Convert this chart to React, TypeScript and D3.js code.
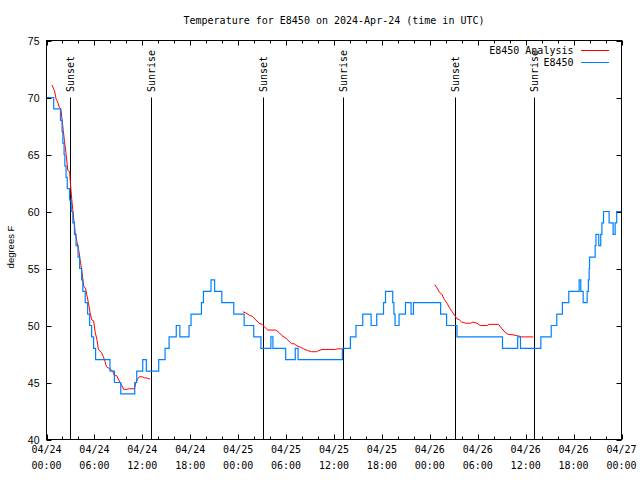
import React from "react";
import * as d3 from "d3";

// ---------- data (hours since 2024-04-24 00:00 UTC) ----------
const stationTimes = [
  0, 0.9, 1.75, 1.95, 2.05, 2.2, 2.3, 2.45, 2.6, 2.9, 3.1, 3.3, 3.5, 3.7, 3.95, 4.15, 4.4, 4.55, 4.85, 5.15,
  5.4, 5.65, 5.9, 6.15, 7.95, 8.5, 9.3, 11.05, 11.3, 12.05, 12.5, 14.05, 14.85, 15.35, 16.25, 16.7, 17.85,
  18.1, 19.4, 19.65, 20.6, 21.05, 21.95, 23.45, 24.75, 25.95, 26.85, 28.1, 28.35, 29.95, 31.15, 31.5, 37.05,
  38.05, 38.75, 39.6, 40.65, 41.35, 42.2, 42.45, 43.35, 43.5, 43.65, 44.15, 44.95, 45.65, 45.95, 49.35, 50.1,
  51.4, 57.1, 59.0, 59.35, 61.9, 63.2, 63.9, 64.6, 65.4, 66.7, 66.9, 67.2, 67.7, 67.85, 67.95, 68.0, 68.7,
  68.8, 69.15, 69.4, 69.55, 69.75, 70.45, 70.95, 71.2, 71.4, 72,
];
const stationTemps = [
  70, 69, 68, 67, 66, 65, 64, 63, 62, 61, 60, 59, 58, 57, 56, 55, 54, 53, 52, 51,
  50, 49, 48, 47, 46, 45, 44, 45, 46, 47, 46, 47, 48, 49, 50, 49, 50,
  51, 52, 53, 54, 53, 52, 51, 50, 49, 48, 49, 48, 47, 48, 47, 48,
  49, 50, 51, 50, 51, 52, 53, 52, 51, 50, 51, 52, 51, 52, 51, 50,
  49, 48, 49, 48, 49, 50, 51, 52, 53, 54, 53, 52, 53, 54, 55, 56, 57,
  58, 57, 58, 59, 60, 59, 58, 59, 60, 60,
];

// analysis: three runs, separated by null
const analysisTimes: (number | null)[] = [
  0.67, 1.0, 1.21, 1.4, 1.62, 1.8, 1.96, 2.1, 2.25, 2.46, 2.67, 2.9, 2.96, 3.17, 3.3, 3.42, 3.6, 3.79, 4.04,
  4.2, 4.4, 4.67, 4.875, 5.04, 5.25, 5.46, 5.67, 5.9, 6.1, 6.3, 6.5, 6.7, 6.9, 7.1, 7.3, 7.5, 7.7, 7.96, 8.29,
  8.5, 8.79, 9.0, 9.2, 9.46, 9.66, 10.04, 10.4, 11.0, 11.2, 11.4, 11.62, 12.04, 12.25, 12.54, 12.96,
  null,
  24.6, 24.96, 25.4, 25.8, 26.2, 26.6, 27.0, 27.4, 27.7, 28.7, 29.1, 29.5, 29.96, 30.4, 30.7, 31.0, 31.4,
  31.8, 32.2, 32.7, 33.2, 33.8, 34.1, 34.5, 36.2, 36.4, 36.95,
  null,
  48.6, 48.9, 49.2, 49.5, 49.8, 50.2, 50.5, 50.8, 51.1, 51.4, 51.7, 52.0, 52.5, 53.1, 53.4, 53.9, 54.3,
  55.2, 55.4, 56.6, 57.05, 57.5, 57.9, 58.3, 58.9, 59.3, 59.5, 60.95,
];
const analysisTemps: (number | null)[] = [
  71.1, 70.6, 69.85, 69.6, 69.1, 69.0, 68.0, 67.1, 66.2, 65.0, 63.6, 63.5, 62.8, 61.0, 60.1, 59.3, 58.1, 57.4, 56.6,
  55.8, 54.9, 53.4, 53.3, 52.7, 52.0, 51.1, 50.5, 50.4, 49.4, 48.8, 47.9, 47.75, 47.6, 47.3, 46.9, 46.4, 46.3, 46.2, 46.0,
  45.6, 45.6, 45.3, 45.0, 44.7, 44.4, 44.4, 44.45, 44.45, 45.0, 45.3, 45.5, 45.5, 45.4, 45.4, 45.3,
  null,
  51.2, 51.1, 50.9, 50.8, 50.5, 50.2, 50.1, 49.8, 49.6, 49.6, 49.4, 49.1, 48.9, 48.6, 48.4, 48.4, 48.2,
  48.1, 47.95, 47.8, 47.7, 47.7, 47.8, 47.9, 47.9, 47.95, 47.95,
  null,
  53.6, 53.3, 52.9, 52.75, 52.3, 51.9, 51.5, 51.2, 50.9, 50.6, 50.5, 50.3, 50.2, 50.2, 50.3, 50.2, 50.0,
  50.0, 50.1, 50.1, 49.7, 49.35, 49.2, 49.2, 49.1, 49.05, 49.0, 49.0,
];

const sunLabels = ["Sunset", "Sunrise", "Sunset", "Sunrise", "Sunset", "Sunrise"];
const sunTimes = [3.0, 13.12, 27.05, 37.08, 51.1, 61.1];
const sunLineTop = 70;

const yTicks = [40, 45, 50, 55, 60, 65, 70, 75];
const seriesNames = ["E8450 Analysis", "E8450"];
const title = "Temperature for E8450 on 2024-Apr-24 (time in UTC)";
const yLabel = "degrees F";

const START = Date.UTC(2024, 3, 24, 0, 0, 0);
const END = Date.UTC(2024, 3, 27, 0, 0, 0);
const toDate = (h: number) => new Date(START + h * 3600000);

// ---------- layout ----------
const W = 640;
const H = 480;
const L = 46.5;
const R = 621.5;
const T = 40.5;
const B = 439.5;
const MONO = "'DejaVu Sans Mono', monospace";
const SANS = "'Liberation Sans', Arial, sans-serif";
const RED = "#ff0000";
const BLUE = "#0080ff";

export default function App() {
  const x = d3.scaleUtc().domain([new Date(START), new Date(END)]).range([L, R]);
  const y = d3.scaleLinear().domain([40, 75]).range([B, T]);

  const majorTicks = d3.utcHour.every(6)!.range(new Date(START), new Date(END + 1));
  const minorTicks = d3.utcHour.every(2)!.range(new Date(START), new Date(END + 1));

  const station = stationTimes.map((t, i) => ({ t: toDate(t), v: stationTemps[i] }));
  const stationLine = d3
    .line<{ t: Date; v: number }>()
    .x((d) => x(d.t))
    .y((d) => y(d.v))
    .curve(d3.curveStepAfter);

  const analysis = analysisTimes.map((t, i) => ({
    t: t == null ? null : toDate(t),
    v: analysisTemps[i],
  }));
  const analysisLine = d3
    .line<{ t: Date | null; v: number | null }>()
    .defined((d) => d.t != null && d.v != null)
    .x((d) => x(d.t as Date))
    .y((d) => y(d.v as number));

  const fmtDay = d3.utcFormat("%m/%d");
  const fmtTime = d3.utcFormat("%H:%M");

  return (
    <svg width={W} height={H} style={{ display: "block", position: "absolute", left: 0, top: 0, background: "#fff" }}>
      <rect x={0} y={0} width={W} height={H} fill="#fff" />
      {/* title */}
      <text x={334} y={24} fontFamily={MONO} fontSize={10} textAnchor="middle" fill="#000">
        {title}
      </text>

      {/* y label */}
      <text
        transform={`translate(13.5,247) rotate(-90)`}
        fontFamily={SANS}
        fontSize={9.5}
        textAnchor="middle"
        fill="#000"
      >
        {yLabel}
      </text>

      {/* y tick labels and ticks */}
      {yTicks.map((v) => (
        <g key={"y" + v}>
          <text x={39.5} y={y(v) + 4} fontFamily={SANS} fontSize={10.5} textAnchor="end" fill="#000">
            {v}
          </text>
          <line x1={L} x2={L + 5} y1={Math.round(y(v)) + 0.5} y2={Math.round(y(v)) + 0.5} stroke="#000" />
          <line x1={R - 5} x2={R} y1={Math.round(y(v)) + 0.5} y2={Math.round(y(v)) + 0.5} stroke="#000" />
        </g>
      ))}

      {/* x ticks */}
      {minorTicks.map((d, i) => {
        const xx = Math.round(x(d)) + 0.5;
        const major = d.getUTCHours() % 6 === 0;
        const len = major ? 5 : 3;
        return (
          <g key={"xt" + i}>
            <line x1={xx} x2={xx} y1={B} y2={B - len} stroke="#000" />
            <line x1={xx} x2={xx} y1={T} y2={T + len} stroke="#000" />
          </g>
        );
      })}
      {majorTicks.map((d, i) => (
        <g key={"xl" + i}>
          <text x={x(d)} y={453} fontFamily={MONO} fontSize={10} textAnchor="middle" fill="#000">
            {fmtDay(d)}
          </text>
          <text x={x(d)} y={469} fontFamily={MONO} fontSize={10} textAnchor="middle" fill="#000">
            {fmtTime(d)}
          </text>
        </g>
      ))}

      {/* sunrise / sunset markers */}
      {sunTimes.map((t, i) => {
        const xx = Math.round(x(toDate(t))) + 0.5;
        return (
          <g key={"sun" + i}>
            <line x1={xx} x2={xx} y1={y(sunLineTop)} y2={B} stroke="#000" strokeWidth={1} />
            <text
              transform={`translate(${xx + 3.5},92) rotate(-90)`}
              fontFamily={MONO}
              fontSize={10}
              textAnchor="start"
              fill="#000"
            >
              {sunLabels[i]}
            </text>
          </g>
        );
      })}

      {/* series */}
      <path d={analysisLine(analysis) || ""} fill="none" stroke={RED} strokeWidth={1} />
      <path d={stationLine(station) || ""} fill="none" stroke={BLUE} strokeWidth={1.2} />

      {/* legend */}
      <text x={573.5} y={53.5} fontFamily={MONO} fontSize={10} textAnchor="end" fill="#000">
        {seriesNames[0]}
      </text>
      <line x1={581} x2={609} y1={50.5} y2={50.5} stroke={RED} />
      <text x={573.5} y={66} fontFamily={MONO} fontSize={10} textAnchor="end" fill="#000">
        {seriesNames[1]}
      </text>
      <line x1={581} x2={609} y1={62.5} y2={62.5} stroke={BLUE} />

      {/* border */}
      <rect x={L} y={T} width={R - L} height={B - T} fill="none" stroke="#000" strokeWidth={1} />
    </svg>
  );
}
